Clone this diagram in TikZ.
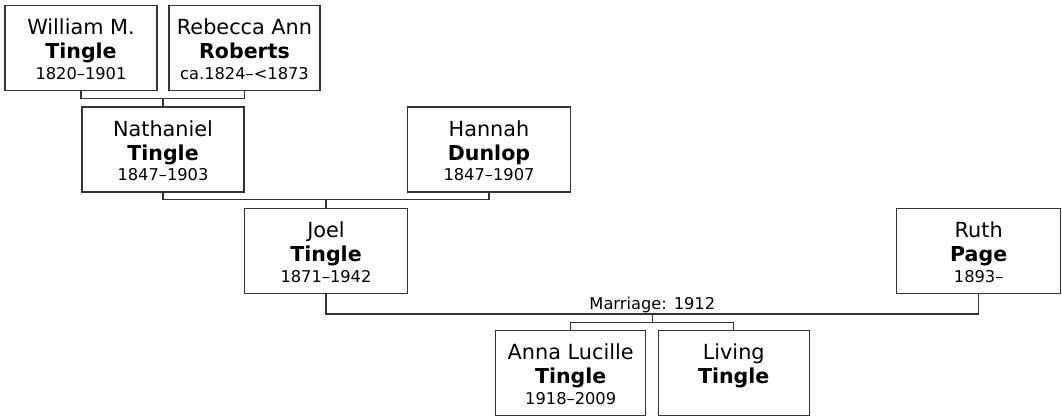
\documentclass[tikz,border=0pt]{standalone}
\usepackage{fontspec}
\setmainfont{DejaVu Sans}
\tikzset{
  pbox/.style={draw=black!80, line width=0.8pt, rectangle, inner sep=0pt, minimum height=85*0.75pt},
  nm/.style={anchor=base, inner sep=0pt, font=\fontsize{15.6}{18}\selectfont},
  nb/.style={anchor=base, inner sep=0pt, font=\fontsize{15.4}{18}\selectfont\bfseries},
  dt/.style={anchor=base, inner sep=0pt, font=\fontsize{12.2}{14}\selectfont},
  conn/.style={draw=black!80, line width=0.8pt}
}
\newcommand\personbox[7]{%
  \node[pbox, minimum width=#4*0.75pt] (#1) at (#2,#3) {};
  \node[nm] (#1-a) at (#2,{#3-13.5}) {#5};
  \node[nb] (#1-b) at (#2,{#3+10.8}) {#6};
  \node[dt] (#1-c) at (#2,{#3+31.2}) {#7};
}
\begin{document}
\begin{tikzpicture}[x=0.75pt,y=-0.75pt]
\useasboundingbox[fill=white] (0,0) rectangle (1062,418);
\personbox{W}{81}{48}{152}{William M.}{Tingle}{1820–1901}
\personbox{R}{244.5}{48}{151}{Rebecca Ann}{Roberts}{ca.1824–<1873}
\personbox{N}{163}{149.5}{162}{Nathaniel}{Tingle}{1847–1903}
\personbox{H}{489}{149.5}{163}{Hannah}{Dunlop}{1847–1907}
\personbox{J}{326}{250.8}{163}{Joel}{Tingle}{1871–1942}
\personbox{Ru}{978.7}{250.8}{164}{Ruth}{Page}{1893–}
\personbox{A}{570.7}{372.8}{150}{Anna Lucille}{Tingle}{1918–2009}
\node[pbox, minimum width=151*0.75pt] (L) at (733.7,372.8) {};
\node[nm] (L-a) at (733.7,{372.8-13.5}) {Living};
\node[nb] (L-b) at (733.7,{372.8+10.8}) {Tingle};

\coordinate (wr) at (163,98.5);
\draw[conn] (W.south) |- (wr) -| (R.south);
\draw[conn] (wr) -- (N.north);
\coordinate (nh) at (326,199.5);
\draw[conn] (N.south) |- (nh) -| (H.south);
\draw[conn] (nh) -- (J.north);
\coordinate (jr) at (652.3,314);
\draw[conn] (J.south) |- (jr) -| (Ru.south);
\node[dt] (mlabel) at (652.3,309) {Marriage: 1912};
\coordinate (kids) at (652.3,322.5);
\draw[conn] (jr) -- (kids);
\draw[conn] (A.north) |- (kids) -| (L.north);
\end{tikzpicture}
\end{document}
